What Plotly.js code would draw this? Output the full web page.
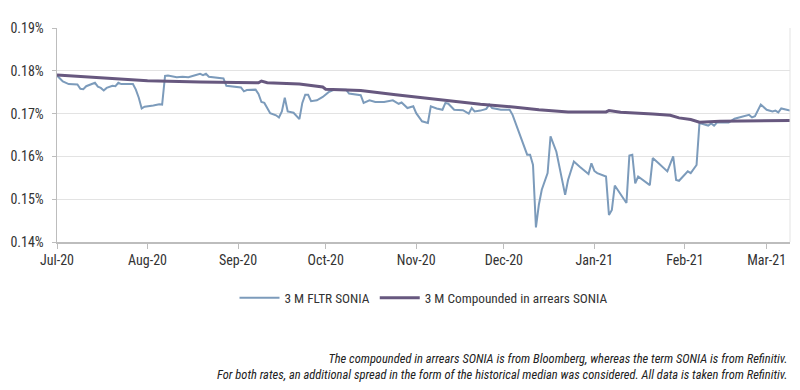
<!DOCTYPE html>
<html>
<head>
<meta charset="utf-8">
<script src="https://cdn.plot.ly/plotly-3.0.1.min.js"></script>
<style>html,body{margin:0;padding:0;background:#fff;}#chart{width:800px;height:390px;}</style>
</head>
<body>
<div id="chart"></div>
<script>
const fltrDates = ["2020-07-01","2020-07-03","2020-07-05","2020-07-08","2020-07-09","2020-07-10","2020-07-11","2020-07-13","2020-07-14","2020-07-15","2020-07-16","2020-07-17","2020-07-18","2020-07-20","2020-07-21","2020-07-22","2020-07-23","2020-07-24","2020-07-27","2020-07-28","2020-07-29","2020-07-30","2020-07-31","2020-08-03","2020-08-05","2020-08-06","2020-08-07","2020-08-08","2020-08-11","2020-08-13","2020-08-15","2020-08-17","2020-08-19","2020-08-20","2020-08-21","2020-08-22","2020-08-25","2020-08-27","2020-08-28","2020-09-02","2020-09-03","2020-09-04","2020-09-07","2020-09-08","2020-09-09","2020-09-10","2020-09-12","2020-09-14","2020-09-15","2020-09-16","2020-09-17","2020-09-18","2020-09-20","2020-09-22","2020-09-23","2020-09-24","2020-09-25","2020-09-26","2020-09-28","2020-09-30","2020-10-02","2020-10-04","2020-10-08","2020-10-09","2020-10-13","2020-10-14","2020-10-16","2020-10-18","2020-10-21","2020-10-24","2020-10-26","2020-10-27","2020-10-29","2020-10-31","2020-11-01","2020-11-02","2020-11-03","2020-11-05","2020-11-06","2020-11-08","2020-11-10","2020-11-11","2020-11-12","2020-11-14","2020-11-17","2020-11-19","2020-11-20","2020-11-21","2020-11-23","2020-11-25","2020-11-26","2020-11-27","2020-11-30","2020-12-03","2020-12-04","2020-12-09","2020-12-10","2020-12-11","2020-12-12","2020-12-13","2020-12-14","2020-12-16","2020-12-17","2020-12-19","2020-12-22","2020-12-23","2020-12-25","2020-12-27","2020-12-30","2020-12-31","2021-01-01","2021-01-02","2021-01-05","2021-01-06","2021-01-07","2021-01-08","2021-01-12","2021-01-13","2021-01-14","2021-01-15","2021-01-16","2021-01-20","2021-01-21","2021-01-23","2021-01-26","2021-01-28","2021-01-29","2021-01-30","2021-02-02","2021-02-03","2021-02-05","2021-02-06","2021-02-09","2021-02-10","2021-02-11","2021-02-12","2021-02-16","2021-02-18","2021-02-23","2021-02-24","2021-02-25","2021-02-27","2021-03-01","2021-03-03","2021-03-04","2021-03-05","2021-03-06","2021-03-09"];
const fltrValues = [0.1789,0.1775,0.1769,0.1768,0.1758,0.1757,0.1764,0.1769,0.1772,0.1763,0.1760,0.1754,0.1760,0.1765,0.1764,0.1772,0.1769,0.1769,0.1769,0.1756,0.1737,0.1712,0.1716,0.1719,0.1722,0.1721,0.1788,0.1789,0.1785,0.1786,0.1785,0.1789,0.1793,0.1790,0.1793,0.1786,0.1784,0.1782,0.1765,0.1761,0.1752,0.1755,0.1756,0.1746,0.1727,0.1725,0.1701,0.1696,0.1691,0.1705,0.1737,0.1705,0.1702,0.1687,0.1725,0.1744,0.1744,0.1729,0.1731,0.1739,0.1750,0.1756,0.1756,0.1747,0.1743,0.1725,0.1731,0.1727,0.1727,0.1731,0.1723,0.1726,0.1713,0.1717,0.1701,0.1690,0.1682,0.1678,0.1717,0.1712,0.1709,0.1725,0.1723,0.1709,0.1708,0.1700,0.1713,0.1705,0.1707,0.1711,0.1721,0.1713,0.1709,0.1709,0.1697,0.1604,0.1604,0.1580,0.1434,0.1487,0.1522,0.1561,0.1647,0.1611,0.1510,0.1545,0.1588,0.1576,0.1559,0.1584,0.1566,0.1561,0.1553,0.1463,0.1475,0.1532,0.1491,0.1602,0.1604,0.1537,0.1553,0.1533,0.1596,0.1584,0.1565,0.1600,0.1545,0.1543,0.1565,0.1561,0.1580,0.1678,0.1672,0.1677,0.1672,0.1679,0.1679,0.1688,0.1697,0.1691,0.1694,0.1721,0.1709,0.1705,0.1707,0.1703,0.1712,0.1707];

const compDates = ["2020-07-01","2020-07-16","2020-08-01","2020-08-19","2020-09-01","2020-09-08","2020-09-09","2020-09-11","2020-09-22","2020-09-30","2020-10-01","2020-10-13","2020-10-25","2020-11-02","2020-11-12","2020-11-23","2020-12-05","2020-12-13","2020-12-23","2021-01-05","2021-01-06","2021-01-10","2021-01-21","2021-01-27","2021-01-30","2021-02-03","2021-02-06","2021-02-13","2021-03-09"];
const compValues = [0.1790,0.1783,0.1777,0.1774,0.1773,0.1772,0.1776,0.1772,0.1769,0.1762,0.1757,0.1754,0.1744,0.1738,0.1730,0.1722,0.1715,0.1709,0.1704,0.1704,0.1707,0.1703,0.1699,0.1696,0.1690,0.1686,0.1680,0.1682,0.1684];

const seriesNames = ["3 M FLTR SONIA", "3 M Compounded in arrears SONIA"];
const yTicks = [0.14, 0.15, 0.16, 0.17, 0.18, 0.19];
const yTickLabels = ["0.14%", "0.15%", "0.16%", "0.17%", "0.18%", "0.19%"];
const footnote = "The compounded in arrears SONIA is from Bloomberg, whereas the term SONIA is from Refinitiv.<br>For both rates, an additional spread in the form of the historical median was considered. All data is taken from Refinitiv.";

const FONT = "'Liberation Sans Narrow', 'Roboto Condensed', 'Arial Narrow', Roboto, sans-serif";

const traces = [
  {x: fltrDates, y: fltrValues, name: seriesNames[0], type: 'scatter', mode: 'lines',
   line: {color: '#7c9bbb', width: 2}},
  {x: compDates, y: compValues, name: seriesNames[1], type: 'scatter', mode: 'lines',
   line: {color: '#67587f', width: 3}}
];

const layout = {
  width: 800, height: 390,
  margin: {l: 57, r: 10, t: 28, b: 148},
  paper_bgcolor: '#fff', plot_bgcolor: '#fff',
  font: {family: FONT, size: 13, color: '#333'},
  showlegend: true,
  legend: {orientation: 'h', x: 0.5, xanchor: 'center', y: -0.262, yanchor: 'middle',
           font: {family: FONT, size: 13.3, color: '#333'}, itemwidth: 40, tracegroupgap: 0},
  xaxis: {type: 'date', range: ['2020-07-01', '2021-03-09'],
          tick0: '2020-07-01', dtick: 'M1', tickformat: '%b-%y',
          showgrid: false, showline: true, linecolor: '#bdbdbd', linewidth: 1.5,
          ticks: 'outside', ticklen: 5, tickcolor: '#bdbdbd',
          tickfont: {family: FONT, size: 14, color: '#333'}, zeroline: false},
  yaxis: {range: [0.14, 0.19], tickmode: 'array', tickvals: yTicks, ticktext: yTickLabels,
          showgrid: true, gridcolor: '#e3e3e3', gridwidth: 1,
          showline: true, linecolor: '#bdbdbd', linewidth: 1.5,
          ticks: 'outside', ticklen: 4, tickcolor: '#bdbdbd', ticklabelstandoff: 5,
          tickfont: {family: FONT, size: 14, color: '#333'}, zeroline: false},
  shapes: [{type: 'line', xref: 'paper', yref: 'paper', x0: 1, x1: 1, y0: 0, y1: 1,
            line: {color: '#e3e3e3', width: 1}}],
  annotations: [{xref: 'paper', yref: 'paper', x: 1, y: -0.58, xanchor: 'right', yanchor: 'middle',
                 align: 'right', showarrow: false, text: footnote,
                 font: {family: FONT, size: 12.5, color: '#222', style: 'italic'}}]
};

Plotly.newPlot('chart', traces, layout, {displayModeBar: false, staticPlot: true});
</script>
</body>
</html>
